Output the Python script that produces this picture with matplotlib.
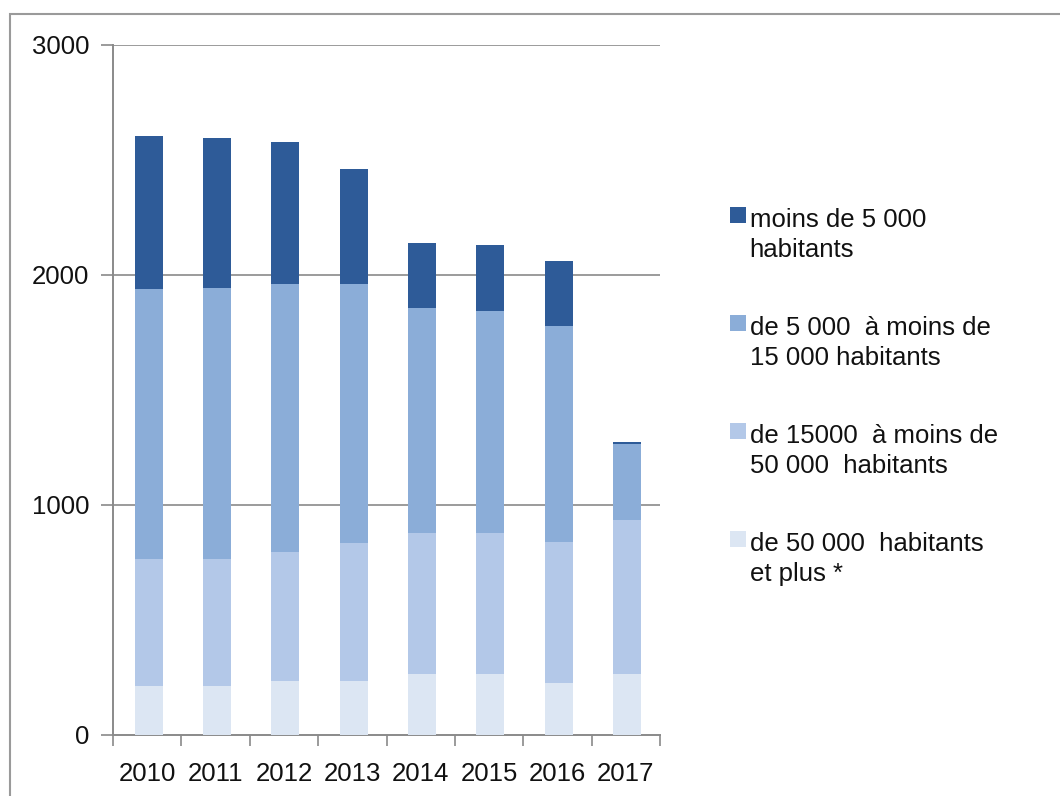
import matplotlib
matplotlib.use("Agg")
import matplotlib.pyplot as plt
from matplotlib.patches import Rectangle
from matplotlib.legend_handler import HandlerPatch
import numpy as np

plt.rcParams['font.family'] = ['Liberation Sans', 'DejaVu Sans']

years = ['2010', '2011', '2012', '2013', '2014', '2015', '2016', '2017']
plus50 = [215, 215, 235, 235, 265, 265, 225, 265]
s15_50 = [550, 550, 560, 600, 615, 615, 615, 670]
s5_15 = [1175, 1180, 1165, 1125, 975, 965, 940, 330]
moins5 = [665, 650, 620, 500, 285, 285, 280, 8]

labels = ['moins de 5 000\nhabitants',
          'de 5 000  à moins de\n15 000 habitants',
          'de 15000  à moins de\n50 000  habitants',
          'de 50 000  habitants\net plus *']
colors = ['#2e5b98', '#8badd8', '#b3c8e8', '#dce6f3']

fig = plt.figure(figsize=(10.6, 7.96), dpi=100)
W, H = 1060, 796
ax = fig.add_axes([113 / W, 61 / H, 547 / W, 690 / H])

x = np.arange(len(years))
bw = 0.41
series = [plus50, s15_50, s5_15, moins5]
series_colors = colors[::-1]
bottom = np.zeros(len(years))
for vals, c in zip(series, series_colors):
    ax.bar(x + 0.02, vals, bw, bottom=bottom, color=c, edgecolor='none', zorder=3)
    bottom += np.array(vals)

ax.set_xlim(-0.5, 7.5)
ax.set_ylim(0, 3000)
ax.set_yticks([0, 1000, 2000, 3000])
ax.set_yticklabels(['0', '1000', '2000', '3000'])
for yv in [1000, 2000, 3000]:
    ax.axhline(yv, color='#8a8a8a', lw=1.2, zorder=1)
ax.set_xticks(x)
ax.set_xticklabels(years)
ax.set_xticks(np.arange(-0.5, 8, 1), minor=True)
ax.tick_params(axis='x', which='major', length=0, pad=19.5, labelsize=18.5, colors='#111111')
ax.tick_params(axis='x', which='minor', length=8, width=1.2, color='#8a8a8a')
ax.tick_params(axis='y', length=9, width=1.2, color='#8a8a8a', pad=8, labelsize=18.5, labelcolor='#111111')
for s in ['top', 'right']:
    ax.spines[s].set_visible(False)
for s in ['left', 'bottom']:
    ax.spines[s].set_color('#8a8a8a')
    ax.spines[s].set_linewidth(1.4)

# outer frame
fig.patches.append(Rectangle((10 / W, -0.05), 1.2, (796 - 14) / H + 0.05,
                             transform=fig.transFigure, fill=False,
                             edgecolor='#9a9a9a', lw=1.5))


class TopHandler(HandlerPatch):
    def create_artists(self, legend, orig_handle, xdescent, ydescent, width,
                       height, fontsize, trans):
        s = fontsize * 0.62
        p = Rectangle((-xdescent + width - s, -ydescent + height * 0.5 + fontsize * 0.5),
                      s, s, facecolor=orig_handle.get_facecolor(), edgecolor='none',
                      transform=trans)
        return [p]


handles = [Rectangle((0, 0), 1, 1, facecolor=c) for c in colors]
leg = fig.legend(handles, labels, loc='upper left', bbox_to_anchor=(702 / W, 1 - 185 / H),
                 frameon=False, fontsize=18.5, handlelength=0.8, handletextpad=0.15,
                 labelspacing=2.1, handler_map={Rectangle: TopHandler()})
for t in leg.get_texts():
    t.set_color('#111111')
    t.set_linespacing(1.32)

fig.savefig('out.png', dpi=100)
